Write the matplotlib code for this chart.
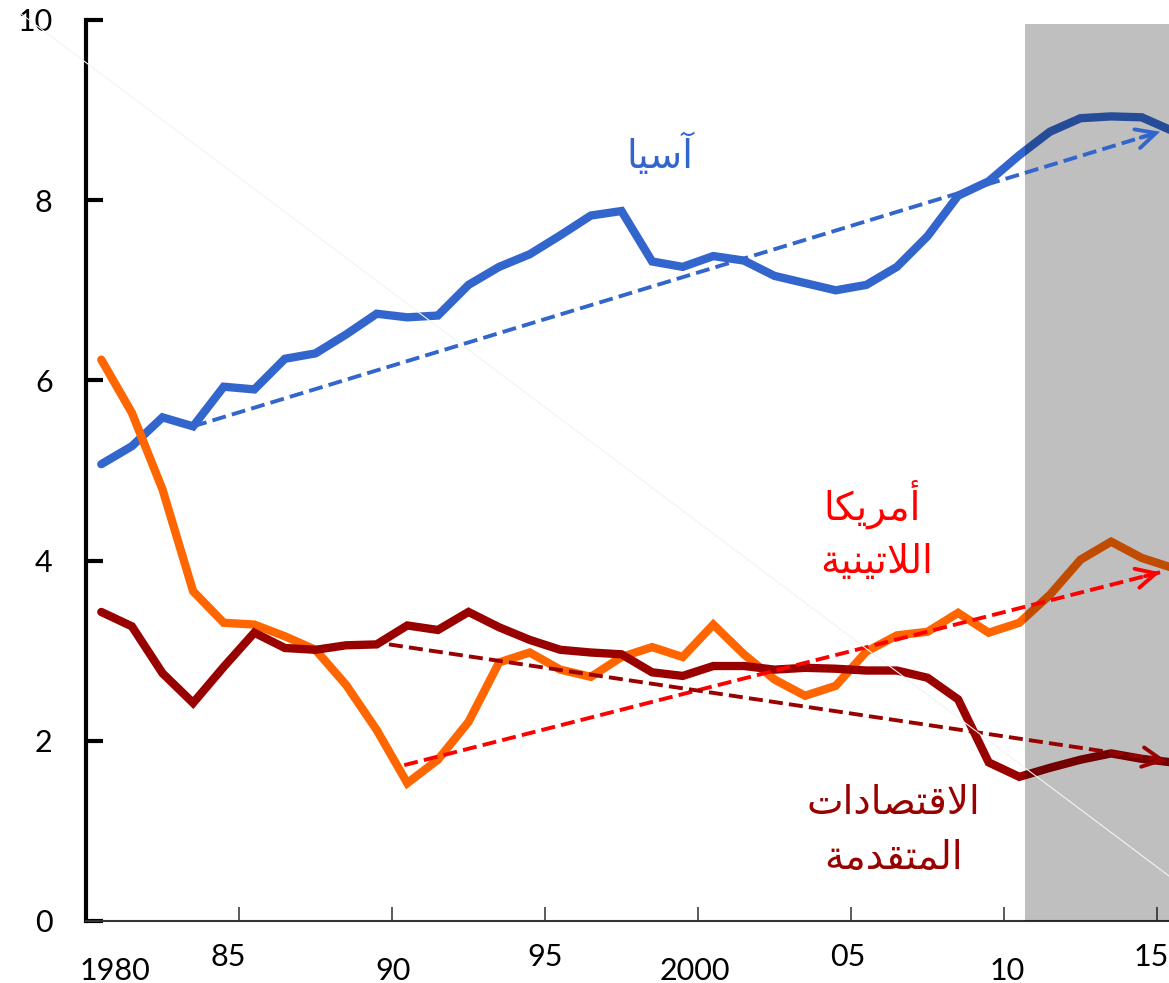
import matplotlib
matplotlib.use("Agg")
import matplotlib.pyplot as plt
from matplotlib.lines import Line2D
import matplotlib.transforms as mtransforms

# data: values (points sit at mid-year)
years = list(range(1980, 2016))
asia = [5.07, 5.27, 5.59, 5.49, 5.93, 5.90, 6.24, 6.30, 6.51, 6.74,
        6.70, 6.72, 7.06, 7.26, 7.40, 7.61, 7.83, 7.88, 7.32, 7.26,
        7.38, 7.33, 7.16, 7.08, 7.00, 7.06, 7.26, 7.60, 8.05, 8.21,
        8.50, 8.76, 8.91, 8.93, 8.92, 8.77]
latam = [6.23, 5.64, 4.79, 3.66, 3.31, 3.29, 3.16, 3.01, 2.62, 2.12,
         1.53, 1.79, 2.21, 2.87, 2.98, 2.79, 2.71, 2.93, 3.04, 2.93,
         3.29, 2.96, 2.68, 2.50, 2.61, 2.99, 3.17, 3.21, 3.42, 3.20,
         3.31, 3.62, 4.01, 4.21, 4.03, 3.92]
advanced = [3.43, 3.27, 2.75, 2.42, 2.82, 3.20, 3.03, 3.01, 3.06, 3.07,
            3.28, 3.23, 3.43, 3.26, 3.12, 3.01, 2.98, 2.96, 2.76, 2.72,
            2.83, 2.83, 2.79, 2.81, 2.80, 2.78, 2.78, 2.70, 2.46, 1.76,
            1.60, 1.70, 1.79, 1.86, 1.80, 1.76]

# trend arrows: (x0, y0) -> (x1, y1)
asia_trend = [(1983.5, 5.49), (2015.1, 8.76)]
latam_trend = [(1990.4, 1.73), (2015.1, 3.87)]
adv_trend = [(1989.9, 3.07), (2015.3, 1.78)]

shade_start = 2010.7
tick_years = [1985, 1990, 1995, 2000, 2005, 2010, 2015]
label_pos = [1980.95, 1984.65, 1990.03, 1995.0, 1999.9, 2004.9, 2010.1, 2014.8]
label_txt = ['1980', '85', '90', '95', '2000', '05', '10', '15']

BLUE = '#3366CC'
ORANGE = '#FF6600'
DARKRED = '#990000'
RED = '#FF0000'

# minimal arabic shaping (matplotlib has no complex text layout)
FORMS = {  # isolated, final, initial, medial
    'آ': ('\uFE81', '\uFE82', None, None),
    'أ': ('\uFE83', '\uFE84', None, None),
    'ا': ('\uFE8D', '\uFE8E', None, None),
    'ة': ('\uFE93', '\uFE94', None, None),
    'ت': ('\uFE95', '\uFE96', '\uFE97', '\uFE98'),
    'د': ('\uFEA9', '\uFEAA', None, None),
    'ر': ('\uFEAD', '\uFEAE', None, None),
    'س': ('\uFEB1', '\uFEB2', '\uFEB3', '\uFEB4'),
    'ص': ('\uFEB9', '\uFEBA', '\uFEBB', '\uFEBC'),
    'ق': ('\uFED5', '\uFED6', '\uFED7', '\uFED8'),
    'ك': ('\uFED9', '\uFEDA', '\uFEDB', '\uFEDC'),
    'ل': ('\uFEDD', '\uFEDE', '\uFEDF', '\uFEE0'),
    'م': ('\uFEE1', '\uFEE2', '\uFEE3', '\uFEE4'),
    'ن': ('\uFEE5', '\uFEE6', '\uFEE7', '\uFEE8'),
    'ي': ('\uFEF1', '\uFEF2', '\uFEF3', '\uFEF4'),
}
LAM_ALEF = {'ا': ('\uFEFB', '\uFEFC'), 'آ': ('\uFEF5', '\uFEF6'),
            'أ': ('\uFEF7', '\uFEF8')}


def shape(word):
    units = []
    i = 0
    while i < len(word):
        c = word[i]
        if c == 'ل' and i + 1 < len(word) and word[i + 1] in LAM_ALEF:
            units.append(('LA', word[i + 1]))
            i += 2
        else:
            units.append(('C', c))
            i += 1

    def joins_next(u):
        return u[0] == 'C' and u[1] in FORMS and FORMS[u[1]][2] is not None

    def joins_prev(u):
        return u[0] == 'LA' or u[1] in FORMS

    out = []
    for k, u in enumerate(units):
        prev = k > 0 and joins_next(units[k - 1]) and joins_prev(u)
        nxt = k + 1 < len(units) and joins_next(u) and joins_prev(units[k + 1])
        if u[0] == 'LA':
            out.append(LAM_ALEF[u[1]][1 if prev else 0])
        else:
            iso, fin, ini, med = FORMS[u[1]]
            out.append(med if prev and nxt else fin if prev else ini if nxt else iso)
    return ''.join(reversed(out))


plt.rcParams['font.family'] = ['Lato', 'DejaVu Sans']

fig = plt.figure(figsize=(11.69, 9.83), dpi=100)
ax = fig.add_axes([86 / 1169, 62 / 983, 1083 / 1169, 901 / 983])

x = [y + 0.5 for y in years]
ax.plot(x, asia, color=BLUE, lw=6, solid_capstyle='round', solid_joinstyle='miter', zorder=3)
ax.plot(x, latam, color=ORANGE, lw=6, solid_capstyle='round', solid_joinstyle='miter', zorder=3)
ax.plot(x, advanced, color=DARKRED, lw=6, solid_capstyle='round', solid_joinstyle='miter', zorder=3)

# shaded forecast area, drawn over the solid lines
ax.axvspan(shade_start, 2020, ymin=0, ymax=9.96 / 10, color='black', alpha=0.25, lw=0, zorder=4)

for (p0, p1), col in [(asia_trend, BLUE), (latam_trend, RED), (adv_trend, DARKRED)]:
    ax.plot([p0[0], p1[0]], [p0[1], p1[1]], color=col, lw=2.8,
            linestyle=(0, (3.6, 1.6)), zorder=5)
    fx = p1[0] - (p1[0] - p0[0]) * 0.02
    fy = p1[1] - (p1[1] - p0[1]) * 0.02
    ax.annotate('', xy=p1, xytext=(fx, fy),
                arrowprops=dict(arrowstyle='->,head_length=1.4,head_width=0.7',
                                color=col, lw=2.8, shrinkA=0, shrinkB=0,
                                capstyle='round', joinstyle='miter'),
                zorder=6)

# labels
arabic = dict(ha='center', va='center', family='DejaVu Sans', fontsize=28, zorder=7)
ax.text(1998.76, 8.50, shape('آسيا'), color=BLUE, **arabic)
ax.text(2005.7, 4.62, shape('أمريكا'), color=RED, **arabic)
ax.text(2005.85, 3.98, shape('اللاتينية'), color=RED, **arabic)
ax.text(2006.4, 1.31, shape('الاقتصادات'), color=DARKRED, **arabic)
ax.text(2006.4, 0.70, shape('المتقدمة'), color=DARKRED, **arabic)

ax.set_xlim(1980, 1980 + 1083 / 30.6)
ax.set_ylim(0, 10)
ax.set_yticks([0, 2, 4, 6, 8, 10])
ax.tick_params(axis='y', direction='in', length=12, width=3, pad=24, labelsize=22)

ax.set_xticks(tick_years)
ax.set_xticklabels([])
ax.tick_params(axis='x', direction='in', length=10, width=1.2, color='#404040')

# staggered year labels
trans = mtransforms.blended_transform_factory(ax.transData, ax.transAxes)
for i, (px, lab) in enumerate(zip(label_pos, label_txt)):
    yy = -0.0395 if i % 2 == 0 else -0.0245
    ax.text(px, yy, lab, transform=trans, ha='center', va='top', fontsize=22, clip_on=False)

for s in ['top', 'right']:
    ax.spines[s].set_visible(False)
ax.spines['left'].set_linewidth(3)
ax.spines['bottom'].set_linewidth(1.5)
ax.spines['bottom'].set_color('#333333')

# faint diagonal guide line across the figure
fig.add_artist(Line2D([20 / 1169, 1.0], [1 - 13 / 983, 1 - 876 / 983], color='#f1f4f1',
                      lw=0.8, zorder=10, transform=fig.transFigure))

fig.savefig('out.png', dpi=100)
